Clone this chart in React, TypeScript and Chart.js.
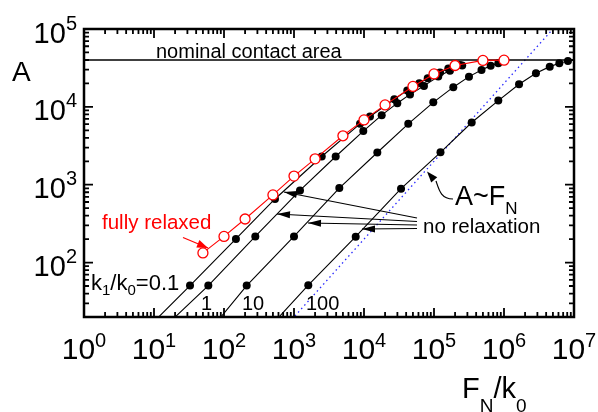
import React, { useEffect, useRef } from "react";
import { Chart, registerables } from "chart.js";
Chart.register(...registerables);

// ---- data (F_N/k0 , A) ----
const fullyRelaxedF = [50, 100, 200, 500, 1000, 2000, 5000, 1e4, 2e4, 5e4, 1e5, 2e5, 5e5, 1e6];
const fullyRelaxedA = [133, 217, 363, 740, 1290, 2150, 4250, 6800, 10600, 18300, 26500, 34000, 39500, 39800];

const k01F = [5.4, 32.7, 148, 535, 2490, 8770, 12180, 27100, 41500, 61700, 81300, 121900, 160000, 235000];
const k01A = [10, 50.7, 201, 656, 2305, 6050, 7510, 12550, 16280, 20150, 23350, 27700, 31170, 34530];

const k1F = [8.9, 59.7, 280, 1218, 3940, 9770, 17900, 29900, 45400, 71900, 115000, 169000, 253000];
const k1A = [10, 50.7, 217, 845, 2305, 4880, 7830, 11150, 14450, 18600, 24600, 29200, 34000];

const k10F = [48, 211, 1000, 4440, 15500, 42900, 97700, 188700, 316000, 477000, 645000, 829000];
const k10A = [10, 50.7, 217, 907, 2595, 6050, 11420, 17900, 24450, 29800, 33850, 36300];

const k100F = [300, 1600, 7610, 33800, 123800, 345600, 829000, 1640000, 2860000, 4500000, 6170000, 8200000];
const k100A = [10, 51.2, 215, 889, 2610, 6290, 12040, 19540, 27040, 32860, 36300, 38900];

const nominalF = [1, 1e7];
const nominalA = [4e4, 4e4];

const guideF = [500, 5e6];
const guideA = [10, 1e5];

const xTickExps = [0, 1, 2, 3, 4, 5, 6, 7];
const yTickExps = [2, 3, 4, 5];

const FONT = "'Liberation Sans', Arial, sans-serif";

const mk = (F: number[], A: number[]) => F.map((f, i) => ({ x: f, y: A[i] }));

type Part = { t: string; size: number; dy: number };

function rich(ctx: CanvasRenderingContext2D, parts: Part[], x: number, y: number, align: "left" | "center" | "right") {
  const widths = parts.map((p) => {
    ctx.font = `${p.size}px ${FONT}`;
    return ctx.measureText(p.t).width;
  });
  const total = widths.reduce((a, b) => a + b, 0);
  let cx = align === "left" ? x : align === "center" ? x - total / 2 : x - total;
  ctx.textAlign = "left";
  ctx.textBaseline = "alphabetic";
  parts.forEach((p, i) => {
    ctx.font = `${p.size}px ${FONT}`;
    ctx.fillText(p.t, cx, y + p.dy);
    cx += widths[i];
  });
}

function arrowHead(ctx: CanvasRenderingContext2D, fx: number, fy: number, tx: number, ty: number, len: number, half: number) {
  const ang = Math.atan2(ty - fy, tx - fx);
  const bx = tx - len * Math.cos(ang);
  const by = ty - len * Math.sin(ang);
  ctx.beginPath();
  ctx.moveTo(tx, ty);
  ctx.lineTo(bx + half * Math.sin(ang), by - half * Math.cos(ang));
  ctx.lineTo(bx - half * Math.sin(ang), by + half * Math.cos(ang));
  ctx.closePath();
  ctx.fill();
}

function arrow(ctx: CanvasRenderingContext2D, fx: number, fy: number, tx: number, ty: number, len = 12, half = 3.5) {
  ctx.beginPath();
  ctx.moveTo(fx, fy);
  ctx.lineTo(tx, ty);
  ctx.stroke();
  arrowHead(ctx, fx, fy, tx, ty, len, half);
}

const overlay = {
  id: "overlay",
  afterDraw(chart: any) {
    const { ctx, chartArea: a, scales } = chart;
    const xs = scales.x;
    const ys = scales.y;
    ctx.save();

    // frame
    ctx.strokeStyle = "#000";
    ctx.lineWidth = 2.5;
    ctx.strokeRect(a.left, a.top, a.right - a.left, a.bottom - a.top);

    // ticks (inward, all four sides)
    ctx.lineWidth = 1.8;
    ctx.beginPath();
    for (let e = 0; e <= 7; e++) {
      for (let m = 1; m <= 9; m++) {
        const v = m * Math.pow(10, e);
        if (v > 1e7) break;
        const px = xs.getPixelForValue(v);
        const len = m === 1 ? 9 : 5;
        ctx.moveTo(px, a.bottom);
        ctx.lineTo(px, a.bottom - len);
        ctx.moveTo(px, a.top);
        ctx.lineTo(px, a.top + len);
      }
    }
    for (let e = 1; e <= 5; e++) {
      for (let m = 1; m <= 9; m++) {
        const v = m * Math.pow(10, e);
        if (v < 20 || v > 1e5) continue;
        const py = ys.getPixelForValue(v);
        const len = m === 1 ? 9 : 5;
        ctx.moveTo(a.left, py);
        ctx.lineTo(a.left + len, py);
        ctx.moveTo(a.right, py);
        ctx.lineTo(a.right - len, py);
      }
    }
    ctx.stroke();

    // tick labels
    ctx.fillStyle = "#000";
    xTickExps.forEach((e) => {
      const px = xs.getPixelForValue(Math.pow(10, e));
      rich(ctx, [{ t: "10", size: 30, dy: 0 }, { t: String(e), size: 20, dy: -12 }], px, 359, "center");
    });
    yTickExps.forEach((e) => {
      const py = ys.getPixelForValue(Math.pow(10, e));
      rich(ctx, [{ t: "10", size: 29, dy: 0 }, { t: String(e), size: 20, dy: -13 }], 77, py + 13.5, "right");
    });

    // axis titles
    rich(ctx, [{ t: "A", size: 28, dy: 0 }], 12, 81, "left");
    rich(
      ctx,
      [
        { t: "F", size: 29, dy: 0 },
        { t: "N", size: 19, dy: 14 },
        { t: "/k", size: 29, dy: 0 },
        { t: "0", size: 19, dy: 14 },
      ],
      462,
      398,
      "left"
    );

    // annotations
    rich(ctx, [{ t: "nominal contact area", size: 20, dy: 0 }], 156, 57.5, "left");
    rich(
      ctx,
      [
        { t: "k", size: 22, dy: 0 },
        { t: "1", size: 15, dy: 5 },
        { t: "/k", size: 22, dy: 0 },
        { t: "0", size: 15, dy: 5 },
        { t: "=0.1", size: 22, dy: 0 },
      ],
      91,
      290,
      "left"
    );
    rich(ctx, [{ t: "1", size: 20, dy: 0 }], 201, 310, "left");
    rich(ctx, [{ t: "10", size: 20, dy: 0 }], 242, 310, "left");
    rich(ctx, [{ t: "100", size: 20, dy: 0 }], 306, 310, "left");
    rich(ctx, [{ t: "no relaxation", size: 20.5, dy: 0 }], 423, 233, "left");
    rich(ctx, [{ t: "A~F", size: 27, dy: 0 }, { t: "N", size: 17, dy: 9 }], 455, 205, "left");

    // no relaxation arrows
    ctx.strokeStyle = "#000";
    ctx.fillStyle = "#000";
    ctx.lineWidth = 1.2;
    arrow(ctx, 417, 218, 284, 192, 13, 3.5);
    arrow(ctx, 417, 221.5, 277, 214, 13, 3.5);
    arrow(ctx, 417, 225, 308, 223, 13, 3.5);
    arrow(ctx, 417, 228.5, 362, 229, 13, 3.5);

    // A~F_N curved arrow
    ctx.beginPath();
    ctx.moveTo(453, 199);
    ctx.bezierCurveTo(441, 199, 439, 190, 436, 181);
    ctx.stroke();
    arrowHead(ctx, 437, 183, 427, 171.5, 11, 4);

    // fully relaxed label + arrow
    ctx.fillStyle = "#ff0000";
    ctx.strokeStyle = "#ff0000";
    rich(ctx, [{ t: "fully relaxed", size: 20.5, dy: 0 }], 102, 229, "left");
    arrow(ctx, 183, 237.5, 208, 248, 11, 4);

    ctx.restore();
  },
};

const blackSeries = (F: number[], A: number[]) => ({
  data: mk(F, A),
  showLine: true,
  borderColor: "#000",
  borderWidth: 1.1,
  pointRadius: 4,
  pointBackgroundColor: "#000",
  pointBorderColor: "#000",
  pointBorderWidth: 0,
  tension: 0,
});

export default function App() {
  const ref = useRef<HTMLCanvasElement | null>(null);
  useEffect(() => {
    if (!ref.current) return;
    const chart = new Chart(ref.current, {
      type: "scatter",
      data: {
        datasets: [
          {
            data: mk(fullyRelaxedF, fullyRelaxedA),
            showLine: true,
            borderColor: "#ff0000",
            borderWidth: 1.1,
            pointRadius: 5,
            pointBackgroundColor: "#ffffff",
            pointBorderColor: "#ff0000",
            pointBorderWidth: 1.3,
            tension: 0,
          },
          blackSeries(k01F, k01A),
          blackSeries(k1F, k1A),
          blackSeries(k10F, k10A),
          blackSeries(k100F, k100A),
          {
            data: mk(nominalF, nominalA),
            showLine: true,
            borderColor: "#000",
            borderWidth: 1.3,
            pointRadius: 0,
          },
          {
            data: mk(guideF, guideA),
            showLine: true,
            borderColor: "#2a2aff",
            borderWidth: 1.3,
            borderDash: [1.5, 3.2],
            pointRadius: 0,
          },
        ] as any,
      },
      options: {
        animation: false,
        responsive: false,
        devicePixelRatio: 1,
        events: [],
        layout: { padding: { left: 84, right: 24, top: 29, bottom: 95 } },
        plugins: { legend: { display: false }, tooltip: { enabled: false } },
        scales: {
          x: { type: "logarithmic", min: 1, max: 1e7, display: false },
          y: { type: "logarithmic", min: 20, max: 1e5, display: false },
        },
      } as any,
      plugins: [overlay],
    });
    return () => chart.destroy();
  }, []);
  return (
    <div style={{ position: "fixed", left: 0, top: 0, width: 598, height: 412, background: "#fff" }}>
      <canvas ref={ref} width={598} height={412} style={{ display: "block", width: 598, height: 412 }} />
    </div>
  );
}
